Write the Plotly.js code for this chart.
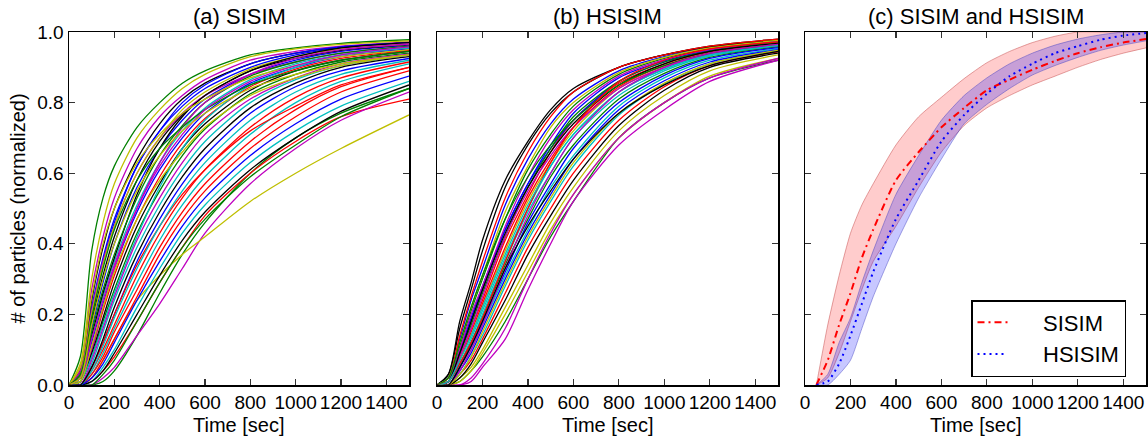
<!DOCTYPE html>
<html>
<head>
<meta charset="utf-8">
<script src="https://cdn.plot.ly/plotly-3.0.1.min.js"></script>
<style>
  html, body { margin: 0; padding: 0; background: #ffffff; }
  #chart { width: 1148px; height: 442px; }
</style>
</head>
<body>
<div id="chart"></div>
<script>
// ---------------- data ----------------
const timeGrid = [0, 50, 100, 150, 200, 300, 400, 500, 600, 800, 1000, 1200, 1500];

// (a) SISIM runs, values at timeGrid (normalized # of particles)
const sisimRuns = [
  [0,0.04,0.22,0.36,0.47,0.62,0.72,0.79,0.84,0.9,0.935,0.955,0.968],
  [0,0.08,0.38,0.53,0.62,0.73,0.80,0.855,0.89,0.935,0.955,0.968,0.978],
  [0,0.01,0.1,0.21,0.31,0.47,0.59,0.685,0.755,0.845,0.895,0.925,0.948],
  [0,0.02,0.13,0.25,0.35,0.51,0.63,0.72,0.785,0.865,0.91,0.935,0.955],
  [0,0.05,0.27,0.42,0.53,0.67,0.76,0.82,0.865,0.92,0.945,0.96,0.972],
  [0,0.06,0.3,0.46,0.57,0.7,0.78,0.84,0.88,0.93,0.952,0.965,0.975],
  [0,0.04,0.24,0.39,0.5,0.64,0.74,0.81,0.855,0.91,0.94,0.957,0.97],
  [0,0.02,0.16,0.29,0.4,0.56,0.67,0.75,0.81,0.88,0.92,0.945,0.962],
  [0,0,0,0.01,0.04,0.14,0.26,0.37,0.46,0.6,0.7,0.77,0.84],
  [0,0,0.01,0.04,0.08,0.18,0.29,0.39,0.48,0.6,0.69,0.76,0.81],
  [0,0,0.03,0.09,0.16,0.29,0.41,0.51,0.59,0.71,0.8,0.86,0.91],
  [0,0,0,0.02,0.05,0.14,0.23,0.33,0.43,0.57,0.67,0.75,0.83],
  [0,0,0.02,0.07,0.13,0.24,0.31,0.37,0.42,0.52,0.6,0.67,0.765],
  [0,0.03,0.18,0.31,0.42,0.58,0.69,0.765,0.82,0.89,0.925,0.948,0.964],
  [0,0.03,0.2,0.35,0.46,0.62,0.72,0.8,0.85,0.91,0.94,0.958,0.97],
  [0,0.01,0.08,0.18,0.27,0.43,0.55,0.65,0.725,0.825,0.88,0.915,0.94],
  [0,0,0.04,0.1,0.17,0.31,0.43,0.53,0.61,0.73,0.815,0.87,0.915],
  [0,0,0.06,0.15,0.24,0.39,0.51,0.61,0.69,0.8,0.865,0.905,0.935],
  [0,0.04,0.21,0.35,0.45,0.6,0.7,0.77,0.82,0.88,0.915,0.94,0.96],
  [0,0.03,0.2,0.34,0.45,0.6,0.7,0.78,0.83,0.895,0.93,0.952,0.966],
  [0,0.02,0.14,0.26,0.36,0.54,0.67,0.76,0.82,0.89,0.93,0.955,0.97],
  [0,0.01,0.12,0.23,0.33,0.49,0.61,0.7,0.77,0.855,0.9,0.93,0.952],
  [0,0.02,0.15,0.27,0.37,0.53,0.65,0.735,0.8,0.875,0.915,0.94,0.96],
  [0,0,0.03,0.08,0.15,0.27,0.39,0.49,0.57,0.69,0.78,0.845,0.9],
  [0,0,0.01,0.05,0.1,0.22,0.33,0.43,0.51,0.63,0.72,0.79,0.86],
  [0,0.01,0.1,0.22,0.33,0.5,0.63,0.73,0.8,0.88,0.925,0.95,0.966],
  [0,0.05,0.25,0.4,0.5,0.63,0.71,0.77,0.81,0.87,0.905,0.93,0.95],
  [0,0.01,0.09,0.19,0.29,0.45,0.57,0.67,0.74,0.835,0.89,0.92,0.945],
  [0,0,0.05,0.12,0.2,0.35,0.47,0.57,0.65,0.77,0.845,0.89,0.925],
  [0,0,0,0.03,0.07,0.18,0.29,0.39,0.47,0.59,0.68,0.76,0.84],
  [0,0,0.02,0.07,0.13,0.25,0.37,0.47,0.55,0.67,0.76,0.83,0.89],
  [0,0.01,0.08,0.17,0.26,0.42,0.56,0.67,0.75,0.85,0.9,0.935,0.955],
  [0,0,0.07,0.16,0.25,0.41,0.53,0.63,0.71,0.81,0.87,0.91,0.937],
  [0,0.01,0.11,0.22,0.32,0.47,0.58,0.66,0.73,0.82,0.87,0.905,0.935],
  [0,0,0.01,0.04,0.09,0.2,0.31,0.41,0.49,0.61,0.7,0.775,0.85],
  [0,0,0.02,0.06,0.12,0.24,0.35,0.45,0.53,0.65,0.74,0.81,0.875],
  [0,0.03,0.19,0.33,0.44,0.58,0.67,0.73,0.78,0.85,0.89,0.92,0.945],
  [0,0,0.05,0.12,0.2,0.34,0.45,0.54,0.61,0.72,0.79,0.85,0.9],
  [0,0,0.04,0.11,0.19,0.33,0.45,0.55,0.63,0.75,0.83,0.88,0.92],
  [0,0.02,0.13,0.24,0.34,0.5,0.62,0.71,0.78,0.86,0.905,0.935,0.958],
  [0,0.02,0.17,0.3,0.4,0.55,0.65,0.72,0.77,0.84,0.88,0.91,0.935],
  [0,0,0.05,0.13,0.22,0.37,0.49,0.59,0.67,0.785,0.855,0.9,0.93]
];

// (b) HSISIM runs, values at timeGrid
const hsisimRuns = [
  [0,0.02,0.13,0.24,0.33,0.51,0.64,0.74,0.81,0.89,0.93,0.957,0.977],
  [0,0,0.01,0.04,0.08,0.18,0.3,0.42,0.52,0.7,0.8,0.87,0.92],
  [0,0.01,0.08,0.16,0.24,0.41,0.54,0.66,0.75,0.855,0.91,0.944,0.968],
  [0,0,0.06,0.12,0.2,0.35,0.49,0.6,0.7,0.82,0.89,0.932,0.96],
  [0,0,0,0.01,0.05,0.13,0.27,0.4,0.52,0.68,0.78,0.86,0.92],
  [0,0,0.01,0.04,0.09,0.2,0.32,0.44,0.54,0.7,0.8,0.875,0.925],
  [0,0.03,0.18,0.29,0.41,0.58,0.69,0.78,0.84,0.9,0.935,0.96,0.98],
  [0,0.01,0.09,0.18,0.27,0.44,0.57,0.68,0.77,0.87,0.918,0.948,0.972],
  [0,0.02,0.11,0.21,0.3,0.47,0.61,0.71,0.79,0.88,0.925,0.953,0.975],
  [0,0,0.03,0.07,0.13,0.26,0.39,0.5,0.6,0.75,0.845,0.905,0.944],
  [0,0,0.04,0.1,0.17,0.31,0.44,0.56,0.65,0.79,0.87,0.92,0.953],
  [0,0,0,0.02,0.06,0.16,0.3,0.43,0.54,0.7,0.8,0.87,0.925],
  [0,0.01,0.07,0.14,0.22,0.38,0.52,0.63,0.72,0.84,0.9,0.937,0.964],
  [0,0.03,0.16,0.27,0.38,0.56,0.68,0.77,0.83,0.9,0.935,0.958,0.978],
  [0,0.02,0.1,0.19,0.28,0.44,0.57,0.67,0.75,0.86,0.915,0.95,0.974],
  [0,0,0.05,0.12,0.19,0.34,0.47,0.59,0.68,0.81,0.883,0.928,0.958],
  [0,0.02,0.14,0.25,0.35,0.53,0.66,0.76,0.83,0.9,0.935,0.96,0.98],
  [0,0,0.03,0.08,0.14,0.28,0.41,0.52,0.62,0.765,0.853,0.91,0.947],
  [0,0.01,0.1,0.2,0.28,0.45,0.59,0.7,0.78,0.875,0.922,0.95,0.973],
  [0,0,0.02,0.05,0.1,0.22,0.34,0.46,0.56,0.72,0.82,0.89,0.935],
  [0,0,0.02,0.06,0.12,0.24,0.37,0.48,0.58,0.735,0.835,0.9,0.94],
  [0,0,0.05,0.11,0.18,0.32,0.46,0.57,0.67,0.8,0.877,0.925,0.956],
  [0,0.01,0.09,0.17,0.26,0.42,0.56,0.67,0.76,0.86,0.915,0.946,0.97],
  [0,0.01,0.07,0.15,0.23,0.39,0.53,0.64,0.73,0.845,0.905,0.94,0.966],
  [0,0.01,0.06,0.13,0.21,0.36,0.5,0.62,0.71,0.83,0.895,0.935,0.962],
  [0,0.01,0.08,0.16,0.25,0.42,0.55,0.65,0.73,0.84,0.9,0.937,0.962],
  [0,0.02,0.12,0.22,0.31,0.49,0.62,0.73,0.8,0.885,0.928,0.955,0.976],
  [0,0.01,0.09,0.18,0.27,0.43,0.56,0.66,0.74,0.85,0.91,0.945,0.968],
  [0,0,0.04,0.09,0.16,0.3,0.43,0.54,0.64,0.78,0.862,0.915,0.95],
  [0,0.02,0.12,0.22,0.31,0.47,0.59,0.68,0.75,0.85,0.905,0.94,0.965],
  [0,0.01,0.06,0.12,0.19,0.35,0.5,0.63,0.73,0.86,0.92,0.952,0.972],
  [0,0.01,0.07,0.14,0.22,0.37,0.51,0.62,0.71,0.83,0.895,0.935,0.962],
  [0,0,0.04,0.1,0.17,0.33,0.48,0.6,0.7,0.83,0.9,0.94,0.965],
  [0,0,0.03,0.08,0.15,0.29,0.42,0.53,0.63,0.77,0.855,0.91,0.948],
  [0,0,0.05,0.11,0.18,0.33,0.45,0.55,0.64,0.77,0.85,0.905,0.945]
];

// (c) mean and spread bands
const bandTime    = [50, 100, 150, 200, 250, 300, 400, 500, 600, 700, 800, 900, 1000, 1100, 1200, 1300, 1400, 1500];
const sisimUpper  = [0, 0.17, 0.31, 0.43, 0.51, 0.57, 0.68, 0.76, 0.815, 0.868, 0.913, 0.945, 0.97, 0.988, 1.0, 1.0, 1.0, 1.0];
const sisimMean   = [0, 0.07, 0.17, 0.26, 0.36, 0.44, 0.58, 0.66, 0.73, 0.785, 0.835, 0.865, 0.893, 0.918, 0.94, 0.957, 0.97, 0.98];
const sisimLower  = [0, 0.02, 0.09, 0.18, 0.27, 0.35, 0.45, 0.56, 0.66, 0.735, 0.785, 0.82, 0.85, 0.875, 0.9, 0.922, 0.94, 0.955];
const hsisimUpper = [0, 0.03, 0.12, 0.19, 0.29, 0.38, 0.54, 0.65, 0.75, 0.82, 0.87, 0.91, 0.94, 0.963, 0.98, 0.992, 1.0, 1.0];
const hsisimMean  = [0, 0.01, 0.06, 0.14, 0.23, 0.32, 0.47, 0.58, 0.69, 0.765, 0.825, 0.875, 0.91, 0.94, 0.96, 0.978, 0.99, 0.997];
const hsisimLower = [0, 0, 0.03, 0.07, 0.16, 0.25, 0.40, 0.53, 0.64, 0.74, 0.795, 0.84, 0.878, 0.905, 0.928, 0.948, 0.963, 0.975];

const xTickVals = [0, 200, 400, 600, 800, 1000, 1200, 1400];
const yTickVals = [0.0, 0.2, 0.4, 0.6, 0.8, 1.0];
const panelTitles = ['(a) SISIM', '(b) HSISIM', '(c) SISIM and HSISIM'];
const xTitle = 'Time [sec]';
const yTitle = '# of particles (normalized)';
const seriesNames = ['SISIM', 'HSISIM'];

// ---------------- styling ----------------
const FONT = 'Arial, Liberation Sans, Helvetica, sans-serif';
const cycle = ['#0000ff', '#008000', '#ff0000', '#00bfbf', '#bf00bf', '#bfbf00', '#000000'];
const NB = '\u00a0\u00a0\u00a0\u00a0\u00a0';

const traces = [];
function addRuns(runs, xa, ya) {
  runs.forEach((vals, i) => {
    traces.push({
      type: 'scatter', mode: 'lines',
      x: timeGrid, y: vals,
      xaxis: xa, yaxis: ya,
      line: { color: cycle[i % cycle.length], width: 1.3, shape: 'spline', smoothing: 0.8 },
      showlegend: false, hoverinfo: 'skip'
    });
  });
}
addRuns(sisimRuns, 'x', 'y');
addRuns(hsisimRuns, 'x2', 'y2');

function addBand(upper, lower, edge, fill) {
  traces.push({
    type: 'scatter', mode: 'lines', x: bandTime, y: upper, xaxis: 'x3', yaxis: 'y3',
    line: { color: edge, width: 1, shape: 'spline', smoothing: 0.6 }, showlegend: false, hoverinfo: 'skip'
  });
  traces.push({
    type: 'scatter', mode: 'lines', x: bandTime, y: lower, xaxis: 'x3', yaxis: 'y3',
    fill: 'tonexty', fillcolor: fill,
    line: { color: edge, width: 1, shape: 'spline', smoothing: 0.6 }, showlegend: false, hoverinfo: 'skip'
  });
}
addBand(sisimUpper, sisimLower, 'rgba(190,60,60,0.45)', 'rgba(255,0,0,0.2)');
addBand(hsisimUpper, hsisimLower, 'rgba(60,60,190,0.45)', 'rgba(0,0,255,0.22)');

traces.push({
  type: 'scatter', mode: 'lines', x: bandTime, y: sisimMean, xaxis: 'x3', yaxis: 'y3',
  name: NB + seriesNames[0], line: { color: '#ff0000', width: 2, dash: '7px,4px,2px,4px', shape: 'spline', smoothing: 0.6 },
  hoverinfo: 'skip'
});
traces.push({
  type: 'scatter', mode: 'lines', x: bandTime, y: hsisimMean, xaxis: 'x3', yaxis: 'y3',
  name: NB + seriesNames[1], line: { color: '#0000ff', width: 2, dash: '2px,4px', shape: 'spline', smoothing: 0.6 },
  hoverinfo: 'skip'
});

const W = 1148, H = 442, TOP = 32, BOTTOM = 385;
const doms = [[69 / W, 409 / W], [437 / W, 778 / W], [805 / W, 1146 / W]];

function xaxis(i) {
  return {
    domain: doms[i], range: [0, 1500], tickvals: xTickVals, ticktext: xTickVals.map(String),
    ticks: 'inside', ticklen: 6, tickwidth: 1.2, tickcolor: '#333',
    showline: true, linecolor: '#000', linewidth: 1.5, mirror: 'ticks',
    showgrid: false, zeroline: false, anchor: ['y', 'y2', 'y3'][i],
    tickfont: { family: FONT, size: 19, color: '#000' }, fixedrange: true
  };
}
function yaxis(i) {
  return {
    domain: [0, 1], range: [0, 1], tickvals: yTickVals, tickformat: '.1f',
    ticks: 'inside', ticklen: 6, tickwidth: 1.2, tickcolor: '#333',
    showline: true, linecolor: '#000', linewidth: 1.5, mirror: 'ticks',
    showgrid: false, zeroline: false, anchor: ['x', 'x2', 'x3'][i],
    showticklabels: i === 0,
    tickfont: { family: FONT, size: 19, color: '#000' }, fixedrange: true
  };
}

const annotations = [];
panelTitles.forEach((t, i) => {
  annotations.push({
    text: t, xref: 'paper', yref: 'paper', x: (doms[i][0] + doms[i][1]) / 2, y: 1,
    xanchor: 'center', yanchor: 'bottom', yshift: 1, showarrow: false,
    font: { family: FONT, size: 22, color: '#000' }
  });
  annotations.push({
    text: xTitle, xref: 'paper', yref: 'paper', x: (doms[i][0] + doms[i][1]) / 2,
    y: (BOTTOM - 425) / (BOTTOM - TOP),
    xanchor: 'center', yanchor: 'middle', showarrow: false,
    font: { family: FONT, size: 20, color: '#000' }
  });
});
annotations.push({
  text: yTitle, xref: 'paper', yref: 'paper', x: 17 / W, y: 0.5,
  xanchor: 'center', yanchor: 'middle', textangle: -90, showarrow: false,
  font: { family: FONT, size: 20, color: '#000' }
});

const layout = {
  width: W, height: H,
  margin: { l: 0, r: 0, t: TOP, b: H - BOTTOM, pad: 0 },
  paper_bgcolor: '#fff', plot_bgcolor: '#fff',
  showlegend: true,
  legend: {
    x: 971 / W, y: (BOTTOM - 300) / (BOTTOM - TOP), xanchor: 'left', yanchor: 'top',
    bgcolor: '#fff', bordercolor: '#000', borderwidth: 1.5, traceorder: 'normal',
    font: { family: FONT, size: 22, color: '#000' },
    itemwidth: 30, tracegroupgap: 4
  },
  xaxis: xaxis(0), xaxis2: xaxis(1), xaxis3: xaxis(2),
  yaxis: yaxis(0), yaxis2: yaxis(1), yaxis3: yaxis(2),
  annotations: annotations
};

Plotly.newPlot('chart', traces, layout, { staticPlot: true, displayModeBar: false });
</script>
</body>
</html>
